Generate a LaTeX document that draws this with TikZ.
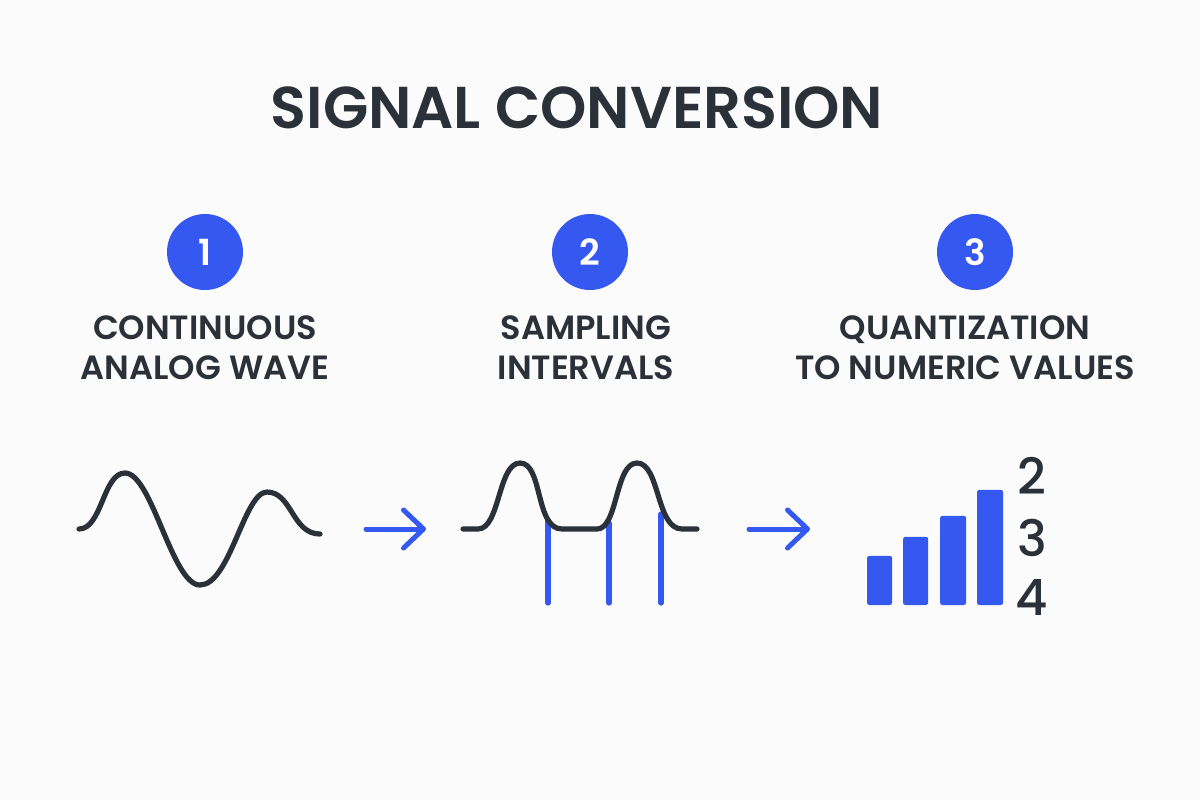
\documentclass[tikz,border=0pt]{standalone}
\usepackage{fontspec}
\setmainfont{Poppins}[BoldFont={Poppins SemiBold}]
\newfontfamily\levelfont{Poppins Medium}
\usetikzlibrary{arrows.meta, positioning, calc}
\definecolor{inkdark}{HTML}{2B3138}
\definecolor{stepblue}{HTML}{3558F0}
\definecolor{paper}{HTML}{FBFBFB}

\begin{document}
\begin{tikzpicture}[
    x=0.5pt, y=-0.5pt,
    title/.style={font=\fontsize{29.5}{32}\selectfont\bfseries, text=inkdark},
    badge/.style={circle, fill=stepblue, minimum size=38pt, inner sep=0pt, text=white, font=\fontsize{18}{20}\selectfont\bfseries},
    caption/.style={align=center, font=\fontsize{16.8}{20}\selectfont\bfseries, text=inkdark},
    wave/.style={line width=2.6pt, draw=inkdark, line cap=round, line join=round},
    sample/.style={line width=2.6pt, draw=stepblue, line cap=round},
    flow/.style={line width=2.5pt, draw=stepblue, line cap=round, -{Straight Barb[length=10pt, width=19pt, line width=2.5pt, round]}},
    bar/.style={fill=stepblue, draw=stepblue, line width=0.6pt, rounded corners=1pt},
    level/.style={font=\fontsize{25}{28}\levelfont, text=inkdark}
]

% -------------------------------------------------------------------------
% Background and bounding box (1200 x 800 pixels)
% -------------------------------------------------------------------------
\fill[paper] (0,0) rectangle (1200,800);
\useasboundingbox (0,0) rectangle (1200,800);

% Title
\node[title] (T) at (577, 108) {SIGNAL CONVERSION};

% Step badges
\node[badge] (B1) at (205, 252) {1};
\node[badge] (B2) at (590, 252) {2};
\node[badge] (B3) at (975, 252) {3};

% Step captions
\node[caption] (C1) at (205, 348) {CONTINUOUS\\ANALOG WAVE};
\node[caption] (C2) at (586, 348) {SAMPLING\\INTERVALS};
\node[caption] (C3) at (965, 348) {QUANTIZATION\\TO NUMERIC VALUES};

% -------------------------------------------------------------------------
% Step 1: continuous wave
% -------------------------------------------------------------------------
\draw[wave] (79,529) .. controls (102,529) and (103,473) .. (125,473)
    .. controls (152,473) and (172,585) .. (200,585)
    .. controls (230,585) and (244,492) .. (267,492)
    .. controls (292,492) and (292,534) .. (320,534);

% -------------------------------------------------------------------------
% Step 2: sampling lines under the pulse wave
% -------------------------------------------------------------------------
\coordinate (S1) at (548, 521);
\coordinate (S2) at (609, 523);
\coordinate (S3) at (661, 514);
\foreach \s in {S1, S2, S3}
    \draw[sample] (\s) -- ($(\s |- 0,603)$);

\draw[wave] (463,529) -- (478,529) .. controls (500,529) and (498,463) .. (520,463)
    .. controls (543,463) and (535,529) .. (562,529) -- (597,529)
    .. controls (618,529) and (615,463) .. (637,463)
    .. controls (660,463) and (656,529) .. (682,529) -- (697,529);

% -------------------------------------------------------------------------
% Step 3: quantized bars and values
% -------------------------------------------------------------------------
\node[bar, minimum width=12pt, minimum height=24pt, inner sep=0pt, anchor=south west] (Q1) at (867, 605) {};
\node[bar, minimum width=12pt, minimum height=33.5pt, inner sep=0pt, anchor=south west] (Q2) at (903, 605) {};
\node[bar, minimum width=12.5pt, minimum height=44pt, inner sep=0pt, anchor=south west] (Q3) at (940, 605) {};
\node[bar, minimum width=12.5pt, minimum height=57pt, inner sep=0pt, anchor=south west] (Q4) at (977, 605) {};

\node[level] (V2) at (1032, 476) {2};
\node[level] (V3) at (1032, 538) {3};
\node[level] (V4) at (1032, 597) {4};

% -------------------------------------------------------------------------
% Flow arrows between the steps
% -------------------------------------------------------------------------
\coordinate (A1s) at (366, 529);
\coordinate (A1e) at (426, 529);
\coordinate (A2s) at (749, 529);
\coordinate (A2e) at (810, 529);
\draw[flow] (A1s) -- (A1e);
\draw[flow] (A2s) -- (A2e);

\end{tikzpicture}
\end{document}
